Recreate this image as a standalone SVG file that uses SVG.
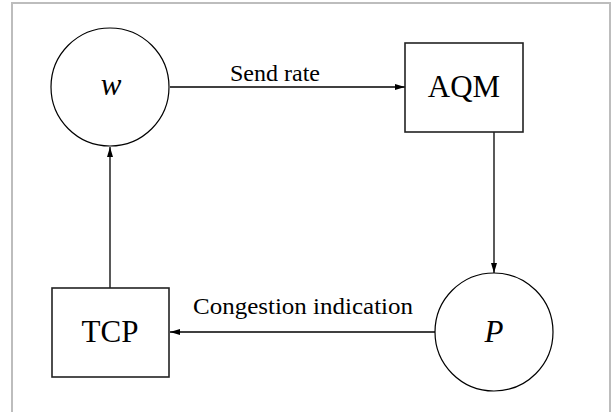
<svg xmlns="http://www.w3.org/2000/svg" width="611" height="412" viewBox="0 0 611 412">
  <style>
    .lbl { font-family: "Liberation Serif", "Times New Roman", serif; fill: #000; }
    .node-label { font-size: 31px; text-anchor: middle; }
    .edge-label { font-size: 24px; }
    .it { font-style: italic; }
    .circ { fill: #fff; stroke: #000; stroke-width: 1.2; }
    .box { fill: #fff; stroke: #222; stroke-width: 1.6; }
    .wire { fill: none; stroke: #000; stroke-width: 1.3; }
  </style>
  <defs>
    <marker id="arrow" viewBox="0 0 10 6" refX="10" refY="3" markerWidth="10" markerHeight="6" markerUnits="userSpaceOnUse" orient="auto">
      <path d="M0,0 L10,3 L0,6 Z" fill="#000"/>
    </marker>
  </defs>

  <rect width="611" height="412" fill="#fff"/>
  <!-- outer frame, open at the bottom -->
  <path d="M12,412 V3 H610 V412" fill="none" stroke="#bdbdbd" stroke-width="2"/>

  <g id="connectors">
    <line class="wire" x1="170" y1="87" x2="405" y2="87" marker-end="url(#arrow)"/>
    <line class="wire" x1="494" y1="132" x2="494" y2="273" marker-end="url(#arrow)"/>
    <line class="wire" x1="435" y1="332" x2="170" y2="332" marker-end="url(#arrow)"/>
    <line class="wire" x1="110" y1="288" x2="110" y2="147" marker-end="url(#arrow)"/>
    <text class="lbl edge-label" x="230" y="81" textLength="90" lengthAdjust="spacingAndGlyphs">Send rate</text>
    <text class="lbl edge-label" x="193" y="314" textLength="220" lengthAdjust="spacingAndGlyphs">Congestion indication</text>
  </g>

  <g id="node-w">
    <circle class="circ" cx="110" cy="87" r="59"/>
    <text class="lbl node-label it" x="111" y="95">w</text>
  </g>

  <g id="node-aqm">
    <rect class="box" x="405" y="43" width="118" height="89"/>
    <text class="lbl node-label" x="464" y="97">AQM</text>
  </g>

  <g id="node-p">
    <circle class="circ" cx="494" cy="332" r="59"/>
    <text class="lbl node-label it" x="494" y="342">P</text>
  </g>

  <g id="node-tcp">
    <rect class="box" x="52" y="288" width="117" height="89"/>
    <text class="lbl node-label" x="110" y="342">TCP</text>
  </g>
</svg>
